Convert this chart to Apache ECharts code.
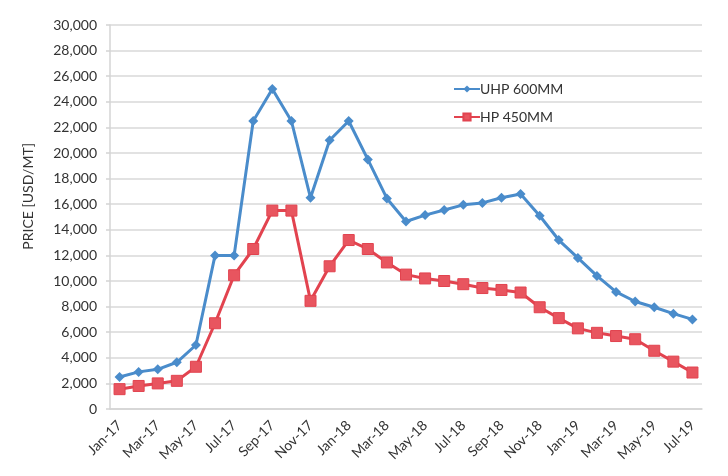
<!DOCTYPE html>
<html>
<head>
<meta charset="utf-8">
<script src="https://cdn.jsdelivr.net/npm/echarts@6/dist/echarts.min.js"></script>
<style>
  html, body { margin: 0; padding: 0; background: #fff; }
  #chart { width: 728px; height: 476px; }
</style>
</head>
<body>
<div id="chart"></div>
<script>
// months Jan-17 .. Jul-19
const months = [
  'Jan-17', 'Feb-17', 'Mar-17', 'Apr-17', 'May-17', 'Jun-17', 'Jul-17', 'Aug-17', 'Sep-17', 'Oct-17', 'Nov-17', 'Dec-17',
  'Jan-18', 'Feb-18', 'Mar-18', 'Apr-18', 'May-18', 'Jun-18', 'Jul-18', 'Aug-18', 'Sep-18', 'Oct-18', 'Nov-18', 'Dec-18',
  'Jan-19', 'Feb-19', 'Mar-19', 'Apr-19', 'May-19', 'Jun-19', 'Jul-19'
]
const uhp600 = [
  2500, 2900, 3100, 3650, 5000, 12000, 12000, 22500, 25000, 22500, 16500, 21000,
  22500, 19500, 16450, 14650, 15150, 15550, 15950, 16100, 16500, 16800, 15100, 13200,
  11800, 10400, 9150, 8400, 7950, 7450, 7000
]
const hp450 = [
  1550, 1800, 2000, 2200, 3300, 6700, 10450, 12500, 15500, 15500, 8450, 11150,
  13200, 12500, 11450, 10500, 10200, 10000, 9750, 9450, 9300, 9100, 7950, 7100,
  6300, 5950, 5700, 5450, 4550, 3700, 2850
]
const seriesNames = ['UHP 600MM', 'HP 450MM']

const chart = echarts.init(document.getElementById('chart'))
const font = 'Lato, "Open Sans", sans-serif'
const blue = '#4A8CCB'
const red = '#E2434F'

chart.setOption({
  animation: false,
  textStyle: { fontFamily: font },
  grid: { left: 110, right: 26, top: 25, bottom: 67 },
  legend: {
    orient: 'vertical',
    left: 448,
    top: 77,
    itemGap: 14,
    itemWidth: 26,
    itemHeight: 9,
    textStyle: { fontFamily: font, fontSize: 14, color: '#333', padding: [0, 0, 0, -5] },
    data: seriesNames
  },
  graphic: [{
    type: 'text',
    left: 21,
    top: 143,
    rotation: Math.PI / 2,
    style: { text: 'PRICE [USD/MT]', font: '14px ' + font, fill: '#333' }
  }],
  xAxis: {
    type: 'category',
    data: months,
    boundaryGap: true,
    axisLine: { lineStyle: { color: '#d4d4d4', width: 1.5 } },
    axisTick: { interval: 1, length: 5, lineStyle: { color: '#d4d4d4', width: 1.5 } },
    axisLabel: { interval: 1, rotate: 45, color: '#333', fontSize: 14, fontFamily: font, margin: 14 }
  },
  yAxis: {
    type: 'value',
    min: 0,
    max: 30000,
    interval: 2000,
    axisLine: { show: true, lineStyle: { color: '#d4d4d4', width: 1.5 } },
    axisTick: { show: true, length: 4, lineStyle: { color: '#d4d4d4', width: 1.5 } },
    axisLabel: {
      color: '#333', fontSize: 14, fontFamily: font, margin: 13,
      formatter: v => v.toLocaleString('en-US')
    },
    splitLine: { lineStyle: { color: '#d9d9d9', width: 1.5 } }
  },
  series: [
    {
      name: seriesNames[0],
      type: 'line',
      data: uhp600,
      symbol: 'diamond',
      symbolSize: 10,
      lineStyle: { color: blue, width: 3 },
      itemStyle: { color: blue }
    },
    {
      name: seriesNames[1],
      type: 'line',
      data: hp450,
      symbol: 'rect',
      symbolSize: 11,
      lineStyle: { color: red, width: 3 },
      itemStyle: { color: '#E8555F', borderColor: red, borderWidth: 1 }
    }
  ]
})
</script>
</body>
</html>
